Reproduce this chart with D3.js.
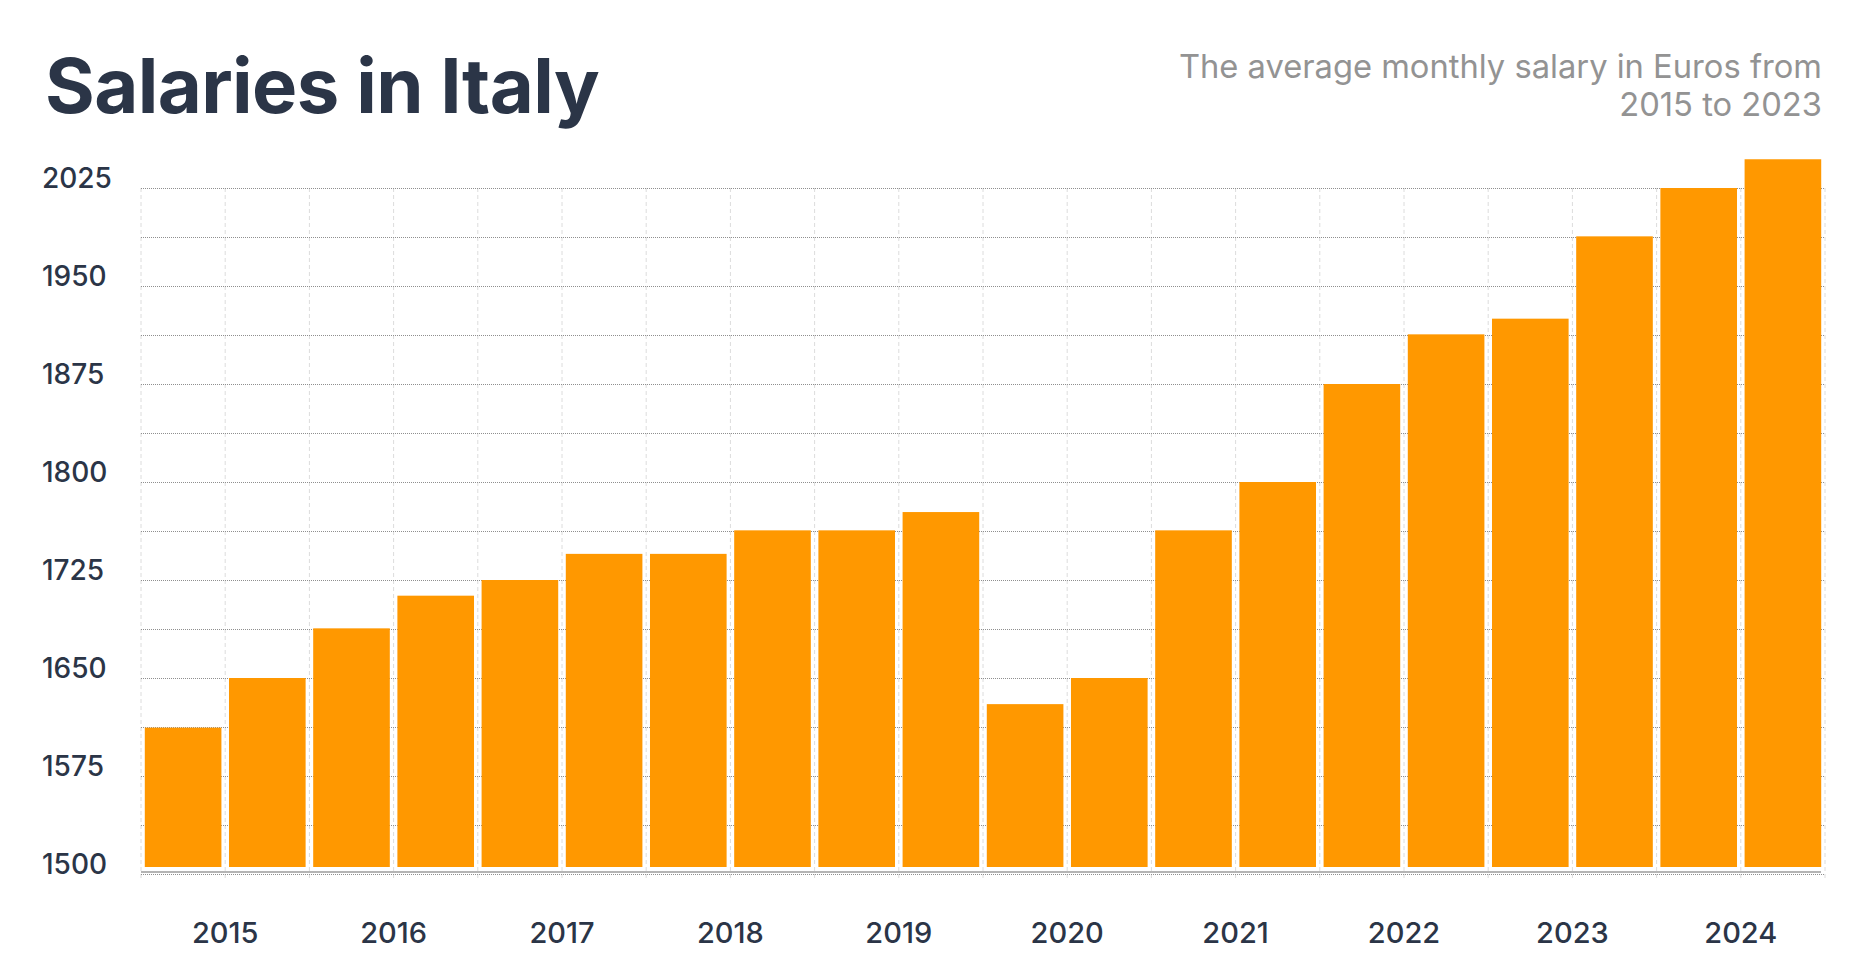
<!DOCTYPE html>
<html>
<head>
<meta charset="utf-8">
<script src="https://cdn.jsdelivr.net/npm/d3@7"></script>
<style>
  body { margin: 0; background: #fff; }
  svg { display: block; font-family: Inter, "Noto Sans", sans-serif; }
</style>
</head>
<body>
<svg id="chart" width="1870" height="972"></svg>
<script>
// half-year periods, two bars per year
var years = ["2015", "2016", "2017", "2018", "2019", "2020", "2021", "2022", "2023", "2024"];
var periods = ["2015 H1", "2015 H2", "2016 H1", "2016 H2", "2017 H1", "2017 H2",
	"2018 H1", "2018 H2", "2019 H1", "2019 H2", "2020 H1", "2020 H2",
	"2021 H1", "2021 H2", "2022 H1", "2022 H2", "2023 H1", "2023 H2",
	"2024 H1", "2024 H2"];
var salaries = [1612, 1650, 1688, 1713, 1725, 1745, 1745, 1763, 1763, 1777,
	1630, 1650, 1763, 1800, 1875, 1913, 1925, 1988, 2025, 2047];
var yTicks = [1500, 1575, 1650, 1725, 1800, 1875, 1950, 2025];
var gridTicks = d3.range(1500, 2025.1, 37.5);

(function () {
	var svg = d3.select("#chart");
	var left = 141, right = 1825, top = 188, bottom = 874;

	var x = d3.scaleBand()
		.domain(periods)
		.range([left, right])
		.paddingInner(0.09)
		.paddingOuter(0.045);

	var y = d3.scaleLinear()
		.domain([1500, 2025])
		.range([bottom, top]);

	// title + subtitle
	svg.append("text")
		.attr("x", 45)
		.attr("y", 113)
		.attr("fill", "#2b3547")
		.style("font-size", "76px")
		.style("font-weight", 700)
		.style("letter-spacing", "-0.6px")
		.text("Salaries in Italy");

	var sub = svg.append("text")
		.attr("text-anchor", "end")
		.attr("fill", "#939393")
		.style("font-size", "32.7px");
	sub.append("tspan").attr("x", 1822).attr("y", 78).text("The average monthly salary in Euros from");
	sub.append("tspan").attr("x", 1822).attr("y", 116).text("2015 to 2023");

	// vertical dashed grid at band edges
	var edges = d3.range(periods.length + 1).map(function (i) {
		return left + i * x.step();
	});
	svg.append("g")
		.selectAll("line")
		.data(edges)
		.enter().append("line")
		.attr("x1", function (d) { return d; })
		.attr("x2", function (d) { return d; })
		.attr("y1", top)
		.attr("y2", 880)
		.attr("stroke", "#dcdcdc")
		.attr("stroke-width", 1)
		.attr("stroke-dasharray", "4,3");

	// horizontal dotted grid
	svg.append("g")
		.selectAll("line")
		.data(gridTicks)
		.enter().append("line")
		.attr("x1", left)
		.attr("x2", right)
		.attr("y1", function (d) { return Math.round(y(d)) + 0.5; })
		.attr("y2", function (d) { return Math.round(y(d)) + 0.5; })
		.attr("stroke", "#8f8f8f")
		.attr("stroke-width", 1)
		.attr("stroke-dasharray", "1,1");

	// y labels
	svg.append("g")
		.selectAll("text")
		.data(yTicks)
		.enter().append("text")
		.attr("x", 42)
		.attr("y", function (d) { return y(d); })
		.attr("fill", "#2b3547")
		.style("font-size", "28px")
		.style("font-weight", 500)
		.text(function (d) { return d; });

	// bars
	svg.append("g")
		.selectAll("rect")
		.data(salaries)
		.enter().append("rect")
		.attr("x", function (d, i) { return x(periods[i]); })
		.attr("y", function (d) { return y(d); })
		.attr("width", x.bandwidth())
		.attr("height", function (d) { return y(1500) - 7 - y(d); })
		.attr("fill", "#ff9800");

	// baseline
	svg.append("line")
		.attr("x1", left)
		.attr("x2", 1821)
		.attr("y1", 872)
		.attr("y2", 872)
		.attr("stroke", "#b4b4b4")
		.attr("stroke-width", 2);

	// year labels centred on each pair
	svg.append("g")
		.selectAll("text")
		.data(years)
		.enter().append("text")
		.attr("x", function (d, i) { return left + (2 * i + 1) * x.step(); })
		.attr("y", 943)
		.attr("text-anchor", "middle")
		.attr("fill", "#2b3547")
		.style("font-size", "29px")
		.style("font-weight", 500)
		.text(function (d) { return d; });
}) ();
</script>
</body>
</html>
